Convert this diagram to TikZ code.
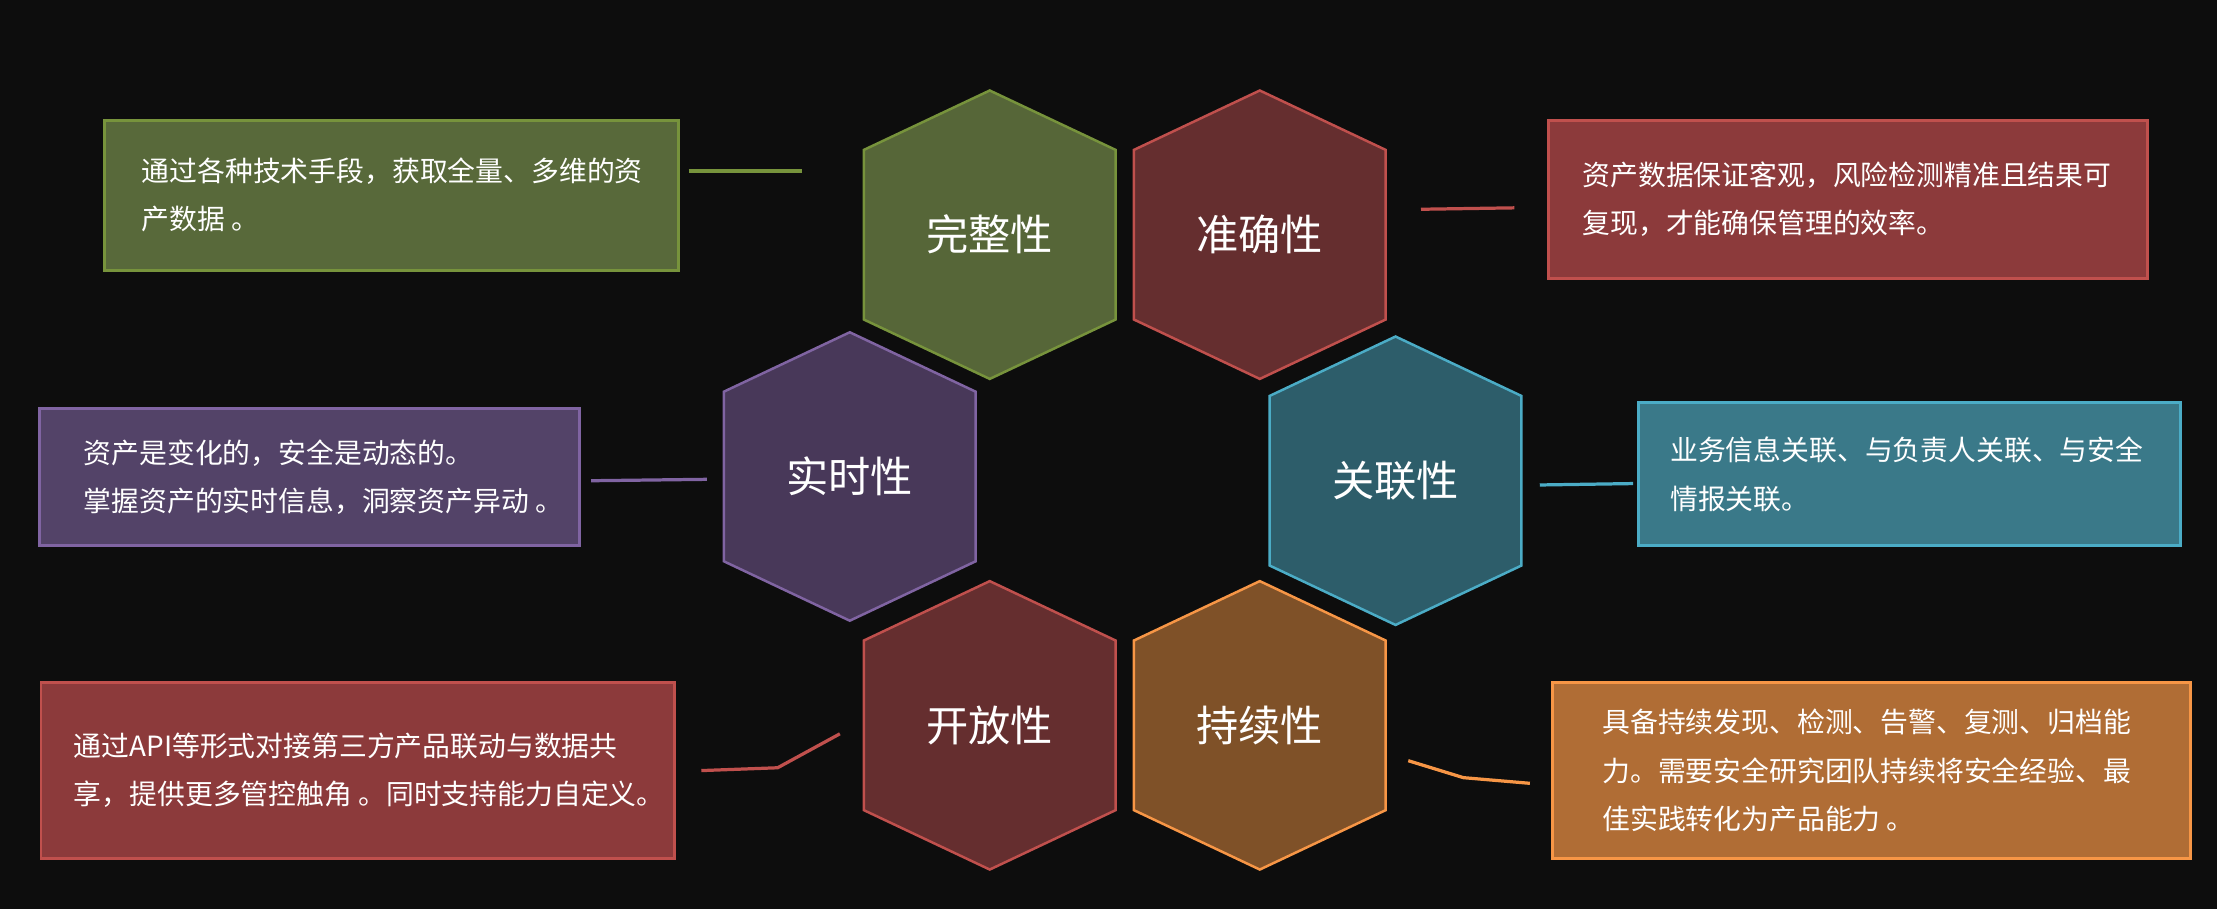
\documentclass[tikz,border=0pt]{standalone}
\usepackage{fontspec}
\newfontfamily\cjkfont{Noto Sans CJK SC}
\usepackage{tikz}
\usetikzlibrary{positioning}
\definecolor{bgdark}{HTML}{0D0D0D}
\definecolor{greenline}{HTML}{77933C}
\definecolor{greenhex}{HTML}{566638}
\definecolor{greenbox}{HTML}{58693A}
\definecolor{redline}{HTML}{C0504D}
\definecolor{redhex}{HTML}{652E2F}
\definecolor{redbox}{HTML}{8C3A3B}
\definecolor{purpleline}{HTML}{8064A2}
\definecolor{purplehex}{HTML}{483859}
\definecolor{purplebox}{HTML}{534368}
\definecolor{tealline}{HTML}{4BACC6}
\definecolor{tealhex}{HTML}{2D5D6A}
\definecolor{tealbox}{HTML}{3A7989}
\definecolor{orangeline}{HTML}{F79646}
\definecolor{orangehex}{HTML}{7F5128}
\definecolor{orangebox}{HTML}{B06D35}

\begin{document}
\begin{tikzpicture}[
 hexG/.style={draw=greenline,fill=greenhex,line width=1pt},
 hexR/.style={draw=redline,fill=redhex,line width=1pt},
 hexP/.style={draw=purpleline,fill=purplehex,line width=1pt},
 hexT/.style={draw=tealline,fill=tealhex,line width=1pt},
 hexO/.style={draw=orangeline,fill=orangehex,line width=1pt},
 cell/.style={font=\cjkfont\fontsize{17}{20}\selectfont,text=white,inner sep=0pt},
 panel/.style={line width=1.2pt,inner sep=0pt},
 note/.style={font=\cjkfont\fontsize{11.2}{19.4}\selectfont,text=white,align=left,
  inner sep=0pt,anchor=west},
 link/.style={line width=1.3pt,line join=round}]

% Background, also fixes the page size
\fill[bgdark] (0,0) rectangle (31.36,12.86);

% Hexagon cells
\draw[hexG] (14.00,9.54) +(0,2.04) -- +(1.78,1.20) -- +(1.78,-1.20) -- +(0,-2.04) -- +(-1.78,-1.20) -- +(-1.78,1.20) -- cycle;
\draw[hexR] (17.82,9.54) +(0,2.04) -- +(1.78,1.20) -- +(1.78,-1.20) -- +(0,-2.04) -- +(-1.78,-1.20) -- +(-1.78,1.20) -- cycle;
\draw[hexP] (12.02,6.12) +(0,2.04) -- +(1.78,1.20) -- +(1.78,-1.20) -- +(0,-2.04) -- +(-1.78,-1.20) -- +(-1.78,1.20) -- cycle;
\draw[hexT] (19.74,6.06) +(0,2.04) -- +(1.78,1.20) -- +(1.78,-1.20) -- +(0,-2.04) -- +(-1.78,-1.20) -- +(-1.78,1.20) -- cycle;
\draw[hexR] (14.00,2.60) +(0,2.04) -- +(1.78,1.20) -- +(1.78,-1.20) -- +(0,-2.04) -- +(-1.78,-1.20) -- +(-1.78,1.20) -- cycle;
\draw[hexO] (17.82,2.60) +(0,2.04) -- +(1.78,1.20) -- +(1.78,-1.20) -- +(0,-2.04) -- +(-1.78,-1.20) -- +(-1.78,1.20) -- cycle;

\node[cell] (whole) at (14.00,9.54) {完整性};
\node[cell] (accurate) at (17.82,9.54) {准确性};
\node[cell] (realtime) at (12.02,6.12) {实时性};
\node[cell] (related) at (19.74,6.06) {关联性};
\node[cell] (open) at (14.00,2.60) {开放性};
\node[cell] (lasting) at (17.82,2.60) {持续性};

% Description panels
\node[panel,draw=greenline,fill=greenbox,minimum width=8.12cm,minimum height=2.12cm] (wholeBox) at (5.54,10.10) {};
\node[panel,draw=redline,fill=redbox,minimum width=8.48cm,minimum height=2.24cm] (accurateBox) at (26.14,10.04) {};
\node[panel,draw=purpleline,fill=purplebox,minimum width=7.64cm,minimum height=1.94cm] (realtimeBox) at (4.38,6.11) {};
\node[panel,draw=tealline,fill=tealbox,minimum width=7.66cm,minimum height=2.02cm] (relatedBox) at (27.01,6.15) {};
\node[panel,draw=redline,fill=redbox,minimum width=8.96cm,minimum height=2.48cm] (openBox) at (5.06,1.96) {};
\node[panel,draw=orangeline,fill=orangebox,minimum width=9.02cm,minimum height=2.48cm] (lastingBox) at (26.47,1.96) {};

\node[note,right=0.54cm of wholeBox.west] (wholeNote) {通过各种技术手段，获取全量、多维的资\\产数据 。};
\node[note,right=0.50cm of accurateBox.west] (accurateNote) {资产数据保证客观，风险检测精准且结果可\\复现，才能确保管理的效率。};
\node[note,right=0.64cm of realtimeBox.west] (realtimeNote) {资产是变化的，安全是动态的。\\掌握资产的实时信息，洞察资产异动 。};
\node[note,right=0.46cm of relatedBox.west] (relatedNote) {业务信息关联、与负责人关联、与安全\\情报关联。};
\node[note,right=0.48cm of openBox.west] (openNote) {通过API等形式对接第三方产品联动与数据共\\享，提供更多管控触角 。同时支持能力自定义。};
\node[note,right=0.72cm of lastingBox.west] (lastingNote) {具备持续发现、检测、告警、复测、归档能\\力。需要安全研究团队持续将安全经验、最\\佳实践转化为产品能力 。};

% Short leader lines between cells and panels
\coordinate (wholeA) at (9.74,10.44); \coordinate (wholeB) at (11.34,10.44);
\coordinate (accurateA) at (20.10,9.90); \coordinate (accurateB) at (21.42,9.92);
\coordinate (realtimeA) at (8.36,6.06); \coordinate (realtimeB) at (10.00,6.08);
\coordinate (relatedA) at (21.78,6.00); \coordinate (relatedB) at (23.10,6.02);
\coordinate (openA) at (9.92,1.96); \coordinate (openK) at (11.00,2.00); \coordinate (openB) at (11.88,2.48);
\coordinate (lastingA) at (19.92,2.10); \coordinate (lastingK) at (20.70,1.86); \coordinate (lastingB) at (21.64,1.78);
\draw[link,greenline] (wholeA) -- (wholeB);
\draw[link,redline] (accurateA) -- (accurateB);
\draw[link,purpleline] (realtimeA) -- (realtimeB);
\draw[link,tealline] (relatedA) -- (relatedB);
\draw[link,redline] (openA) -- (openK) -- (openB);
\draw[link,orangeline] (lastingA) -- (lastingK) -- (lastingB);
\end{tikzpicture}
\end{document}
